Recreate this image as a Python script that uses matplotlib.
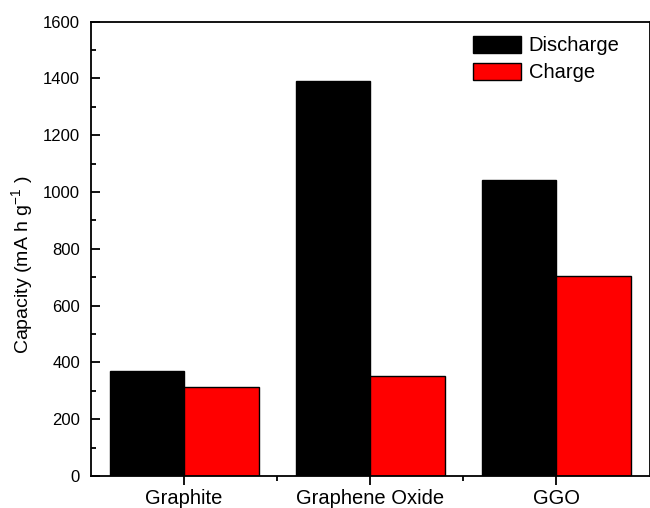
import matplotlib
matplotlib.use("Agg")
import matplotlib.pyplot as plt
import numpy as np
from matplotlib.ticker import MultipleLocator, FixedLocator

categories = ["Graphite", "Graphene Oxide", "GGO"]
discharge = [371, 1392, 1042]
charge = [313, 352, 704]
series_names = ["Discharge", "Charge"]

plt.rcParams['font.family'] = ['Liberation Sans', 'DejaVu Sans']
plt.rcParams['mathtext.fontset'] = 'custom'
plt.rcParams['mathtext.rm'] = 'Liberation Sans'
plt.rcParams['mathtext.it'] = 'Liberation Sans:italic'

fig = plt.figure(figsize=(6.5, 5.08), dpi=100)
ax = fig.add_axes([91/650, 32/508, 558.5/650, 454.3/508])

x = np.arange(len(categories))
w = 0.4
ax.bar(x - w/2, discharge, width=w, color='black', edgecolor='black', linewidth=1, label=series_names[0])
ax.bar(x + w/2, charge, width=w, color='#ff0000', edgecolor='black', linewidth=1, label=series_names[1])

ax.set_xlim(-0.5, 2.5)
ax.set_ylim(0, 1600)
ax.set_xticks(x)
ax.set_xticklabels(categories, fontsize=14.5)
ax.xaxis.set_minor_locator(FixedLocator([0.5, 1.5]))
ax.yaxis.set_major_locator(MultipleLocator(200))
ax.yaxis.set_minor_locator(MultipleLocator(100))
ax.tick_params(axis='y', which='major', direction='in', length=6.5, width=1.3, labelsize=12, pad=8)
ax.tick_params(axis='y', which='minor', direction='in', length=3.6, width=1.3)
ax.tick_params(axis='x', which='major', direction='out', length=6.5, width=1.3, pad=3)
ax.tick_params(axis='x', which='minor', direction='out', length=3.6, width=1.3)
for s in ax.spines.values():
    s.set_linewidth(1.3)

ax.set_ylabel(r'Capacity (mA h g$^{-1}$ )', fontsize=14)
ax.yaxis.set_label_coords(-0.1, 0.464)

leg = ax.legend(loc='upper left', bbox_to_anchor=((473-91)/558.5, 1 - (36-21.7)/454.3),
                frameon=False, fontsize=14.5, handlelength=2.37, handleheight=0.93,
                handletextpad=0.4, labelspacing=0.35, borderpad=0, borderaxespad=0)

fig.savefig("out.png", dpi=100)
